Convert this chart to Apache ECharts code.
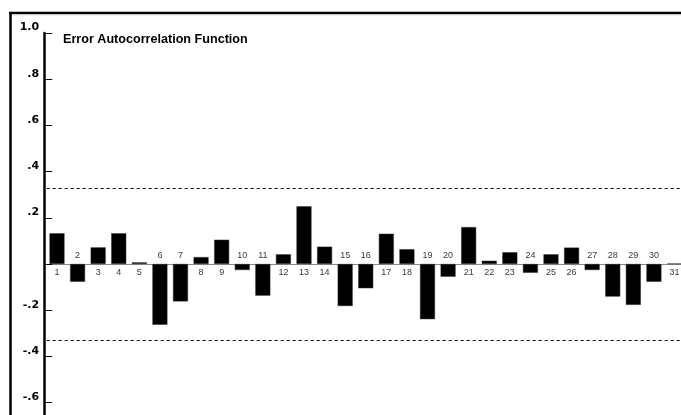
<!DOCTYPE html>
<html>
<head>
<meta charset="utf-8">
<script src="https://cdn.jsdelivr.net/npm/echarts@6/dist/echarts.min.js"></script>
<style>
html,body{margin:0;padding:0;background:#fff;}
#chart{width:681px;height:415px;}
</style>
</head>
<body>
<div id="chart"></div>
<script>
// ---- data ----
const lags = ['1','2','3','4','5','6','7','8','9','10','11','12','13','14','15','16','17','18','19','20','21','22','23','24','25','26','27','28','29','30','31'];
const acfValues = [0.133, -0.077, 0.072, 0.133, 0.007, -0.263, -0.162, 0.030, 0.105, -0.026,
                   -0.137, 0.042, 0.250, 0.075, -0.182, -0.105, 0.131, 0.064, -0.239, -0.055,
                   0.160, 0.014, 0.051, -0.038, 0.042, 0.071, -0.026, -0.141, -0.177, -0.077, 0.002];
const confidenceLimit = 0.333;
const yTickValues = [-0.6, -0.4, -0.2, 0, 0.2, 0.4, 0.6, 0.8, 1.0];
const yTickText = ['-.6', '-.4', '-.2', '', '.2', '.4', '.6', '.8', '1.0'];
const titleText = 'Error Autocorrelation Function';

// ---- chart ----
const chart = echarts.init(document.getElementById('chart'), null, {renderer: 'canvas'});
const FONT = '"Liberation Sans", Arial, sans-serif';

const labelPoints = lags.map((name, i) => ({
  value: [i, 0],
  label: { position: acfValues[i] >= 0 ? 'bottom' : 'top' }
}));

chart.setOption({
  animation: false,
  backgroundColor: '#fff',
  title: {
    text: titleText,
    left: 63, top: 33,
    padding: 0,
    textStyle: { fontFamily: FONT, fontSize: 12.6, fontWeight: 'bold', color: '#000' }
  },
  grid: { left: 46.7, top: 33, width: 638.1, height: 415.8, containLabel: false, outerBoundsMode: 'none' },
  xAxis: {
    type: 'category',
    data: lags,
    boundaryGap: true,
    axisLine: { onZero: true, lineStyle: { color: '#8a8a8a', width: 1 } },
    axisTick: { show: false },
    axisLabel: { show: false },
    splitLine: { show: false }
  },
  yAxis: {
    type: 'value',
    min: -0.8, max: 1.0, interval: 0.2,
    offset: 2.5,
    axisLine: { show: true, lineStyle: { color: '#000', width: 2.5 } },
    axisTick: { show: true, inside: true, length: 8, lineStyle: { color: '#000', width: 1 } },
    splitLine: { show: false },
    axisLabel: {
      margin: 5,
      verticalAlign: 'bottom',
      fontFamily: '"DejaVu Sans", sans-serif', fontSize: 11, fontWeight: 'bold', color: '#000',
      formatter: function (v) {
        for (let i = 0; i < yTickValues.length; i++) {
          if (Math.abs(yTickValues[i] - v) < 1e-6) return yTickText[i];
        }
        return '';
      }
    }
  },
  series: [
    {
      type: 'bar',
      data: acfValues,
      barWidth: 15,
      itemStyle: { color: '#000', borderColor: '#333', borderWidth: 0.5 },
      markLine: {
        silent: true,
        symbol: ['none', 'none'],
        label: { show: false },
        lineStyle: { color: '#000', type: [3, 3], width: 1 },
        data: [{ yAxis: confidenceLimit }, { yAxis: -confidenceLimit }]
      }
    },
    {
      type: 'scatter',
      data: labelPoints,
      symbolSize: 0,
      silent: true,
      label: {
        show: true,
        distance: 4,
        fontFamily: FONT, fontSize: 9, color: '#000',
        formatter: function (p) { return lags[p.dataIndex]; }
      }
    }
  ],
  graphic: [
    { type: 'line', shape: { x1: 9, y1: 13, x2: 681, y2: 13 }, style: { stroke: '#000', lineWidth: 2.5 }, silent: true },
    { type: 'line', shape: { x1: 12, y1: 14.8, x2: 681, y2: 14.8 }, style: { stroke: '#c8c8c8', lineWidth: 1 }, silent: true },
    { type: 'line', shape: { x1: 10.5, y1: 12, x2: 10.5, y2: 415 }, style: { stroke: '#000', lineWidth: 2.5 }, silent: true }
  ]
});
</script>
</body>
</html>
